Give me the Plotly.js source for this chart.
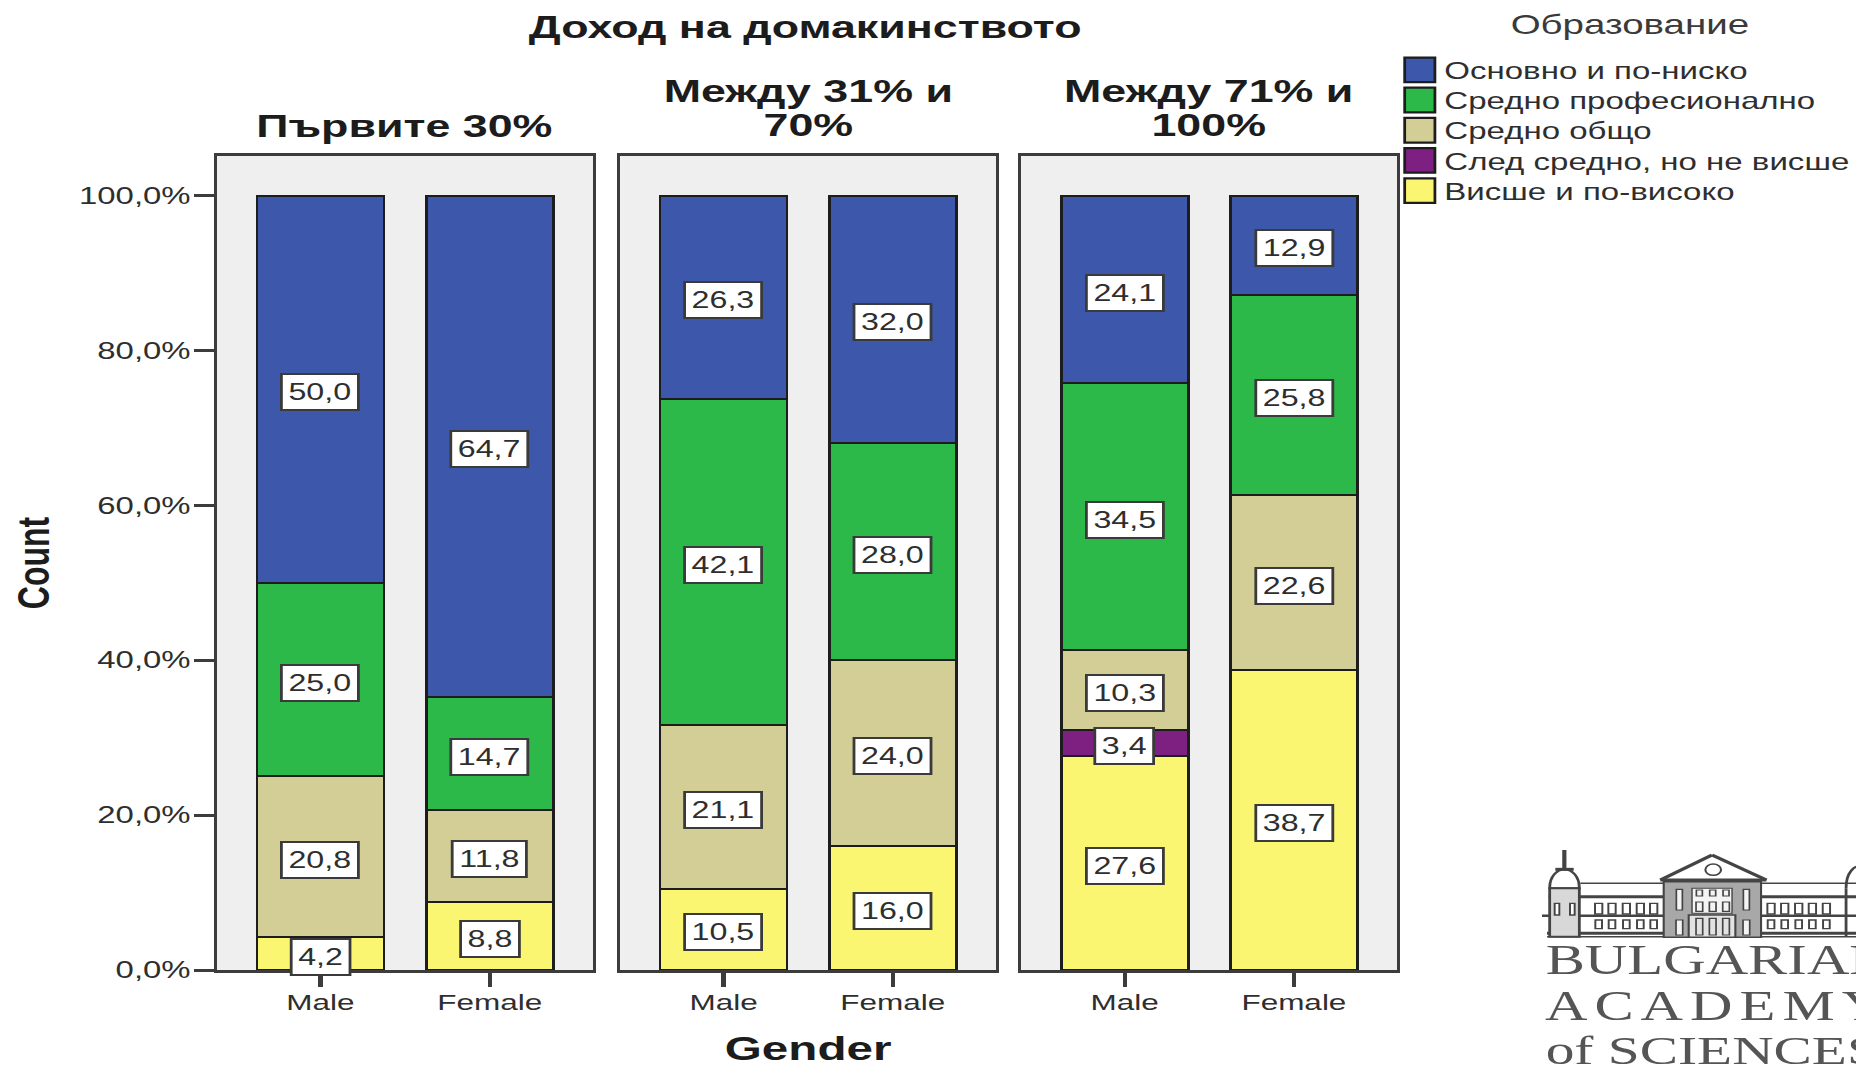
<!DOCTYPE html>
<html><head><meta charset="utf-8">
<script src="https://cdn.plot.ly/plotly-3.0.1.min.js"></script>
<style>
html,body{margin:0;padding:0;background:#fff;overflow:hidden;width:1856px;height:1067px}
#chart{position:absolute;left:0;top:0;height:1067px;transform-origin:0 0}
.legend .legendpoints path{transform:translate(22.5px,0) scale(1.8,2.05) !important;stroke-width:1.1px !important}
</style></head><body><div id="chart"></div>
<script>
// Reference is a horizontally stretched picture: the chart is drawn narrower, then widened.
const STRETCH = 1.4;
const W = 1856, H = 1067;

const genders = ['Male','Female'];
const panelNames = ['Първите 30%','Между 31% и<br>70%','Между 71% и<br>100%'];
const seriesNames = ['Висше и по-високо','След средно, но не висше','Средно общо','Средно професионално','Основно и по-ниско'];
const seriesColors = ['#fbf672','#7d2081','#d3cd96','#2db84a','#3d57aa'];
// per income panel, per series (bottom to top): [Male, Female]
const panel1 = [[4.2,8.8],[0,0],[20.8,11.8],[25.0,14.7],[50.0,64.7]];
const panel2 = [[10.5,16.0],[0,0],[21.1,24.0],[42.1,28.0],[26.3,32.0]];
const panel3 = [[27.6,38.7],[3.4,0],[10.3,22.6],[34.5,25.8],[24.1,12.9]];
const panels = [panel1,panel2,panel3];
const yTicks = [0,20,40,60,80,100];
const yTickLabels = ['0,0%','20,0%','40,0%','60,0%','80,0%','100,0%'];

const panelPx = [[217,593],[620,996],[1021,1397]];
const topPx = 156, botPx = 970;
const px = v => v/W, py = v => 1-v/H;
const ink = '#3c3c3c', txt = '#2e2e2e', sans = 'Liberation Sans, Arial, sans-serif';

const el = document.getElementById('chart');
el.style.width = (W/STRETCH)+'px';
el.style.transform = 'scaleX('+STRETCH+')';

const traces = [], annotations = [], shapes = [];
const layout = {
  width:W/STRETCH, height:H, paper_bgcolor:'#fff', plot_bgcolor:'#efefef',
  margin:{l:0,r:0,t:0,b:0,autoexpand:false}, barmode:'stack', separators:', ',
  bargap:0.25, showlegend:true,
  font:{family:sans,color:txt,size:23},
  title:{text:'Доход на домакинството',x:px(805),y:py(27),xanchor:'center',yanchor:'middle',xref:'paper',yref:'paper',
         font:{family:sans,size:32,weight:700,color:'#1c1c1c'}},
  legend:{x:px(1388),y:py(48),xanchor:'left',yanchor:'top',traceorder:'reversed',
          font:{family:sans,size:23.6,color:txt},bgcolor:'rgba(0,0,0,0)',itemclick:false,itemdoubleclick:false,
          tracegroupgap:0,itemwidth:30}
};

panels.forEach((panel,p)=>{
  const s = p===0?'':String(p+1);
  panel.forEach((vals,k)=>{
    traces.push({type:'bar',x:genders,y:vals,name:seriesNames[k],xaxis:'x'+s,yaxis:'y'+s,
      width:0.75,showlegend:p===0,hoverinfo:'skip',
      marker:{color:seriesColors[k],line:{color:'#1d1d1d',width:2}}});
  });
  layout['xaxis'+(s)] = {domain:[px(panelPx[p][0]),px(panelPx[p][1])],range:[-0.611,1.611],type:'category',
    anchor:'y'+s,showline:true,mirror:true,linecolor:ink,linewidth:3,ticks:'outside',ticklen:14,tickwidth:3,tickcolor:ink,
    showgrid:false,zeroline:false,tickfont:{family:sans,size:22.5,color:txt},ticklabelstandoff:-4,
    title:p===1?{text:'Gender',font:{family:sans,size:34,weight:700,color:'#1c1c1c'},standoff:24}:undefined,
    categoryorder:'array',categoryarray:genders};
  layout['yaxis'+(s)] = {domain:[py(botPx),py(topPx)],range:[0,105.1],anchor:'x'+s,showline:true,mirror:true,
    linecolor:ink,linewidth:2.4,showgrid:false,zeroline:false,tickmode:'array',tickvals:yTicks,ticktext:yTickLabels,
    ticks:p===0?'outside':'',ticklen:14,tickwidth:3,tickcolor:ink,showticklabels:p===0,ticklabelstandoff:-2,
    tickfont:{family:sans,size:23.5,color:txt},
    title:p===0?{text:'Count',font:{family:sans,size:32,weight:700,color:'#1c1c1c'},standoff:11}:undefined};
  // panel heading
  annotations.push({text:panelNames[p],xref:'x'+s+' domain',x:0.5,yref:'paper',y:py(146),yanchor:'bottom',xanchor:'center',
    yshift:p===0?0:-7,showarrow:false,font:{family:sans,size:32,weight:700,color:'#1c1c1c'}});
  // value labels at the middle of each stacked segment
  genders.forEach((g,i)=>{
    let base = 0;
    panel.forEach(vals=>{
      const v = vals[i];
      if(v>0){
        annotations.push({text:v.toFixed(1).replace('.',','),x:g,y:base+v/2,xref:'x'+s,yref:'y'+s,showarrow:false,yshift:-3,
          bgcolor:'#fff',bordercolor:'#3a3a3a',borderwidth:2,borderpad:4,font:{family:sans,size:23,color:txt}});
      }
      base += v;
    });
  });
});

// legend heading
annotations.push({text:'Образование',xref:'paper',yref:'paper',x:px(1629),y:py(24),xanchor:'center',yanchor:'middle',
  showarrow:false,font:{family:sans,size:27.5,color:'#3a3a3a'}});

// institution logo, bottom right
const logoFont = {family:'Liberation Serif, serif',color:'#555'};
const logoIndexStart = annotations.length;
[['BULGARIAN',976,42,0],['ACADEMY',1022,42,17],['of SCIENCES',1066,41,0]].forEach(l=>{
  annotations.push({text:l[0],xref:'paper',yref:'paper',x:px(1544),y:py(l[1]+8),xanchor:'left',yanchor:'bottom',xshift:l[3],
    showarrow:false,font:{family:logoFont.family,size:l[2],color:logoFont.color},borderpad:0});
});
const zx = v=>px(1500+v/3), zy = v=>py(820+v/3);
const logoLine = (a,b,c,d,w)=>shapes.push({type:'line',xref:'paper',yref:'paper',x0:zx(a),y0:zy(b),x1:zx(c),y1:zy(d),line:{color:'#444',width:w}});
const logoRect = (a,b,c,d,w,f)=>shapes.push({type:'rect',xref:'paper',yref:'paper',x0:zx(a),y0:zy(b),x1:zx(c),y1:zy(d),line:{color:'#444',width:w},fillcolor:f||'rgba(0,0,0,0)'});
logoLine(480,180,635,105,3); logoLine(635,105,798,180,3); logoLine(480,180,798,180,3);
shapes.push({type:'circle',xref:'paper',yref:'paper',x0:zx(615),y0:zy(132),x1:zx(662),y1:zy(166),line:{color:'#444',width:1.5}});
logoLine(240,190,490,190,1.5); logoLine(785,190,1068,190,1.5);
logoLine(145,230,1068,230,3); logoLine(125,287,1068,287,2.5); logoLine(140,340,1068,340,3); logoLine(140,350,1068,350,1.5);
logoRect(490,185,782,352,1.5,'#a8a8a8');
logoRect(575,205,695,280,1,'#f4f4f4'); logoRect(565,285,705,352,1.5,'#e2e2e2');
[295,335,378,420,460,812,853,895,936,978].forEach(c=>{
  logoRect(c-11,250,c+11,282,1.4); logoRect(c-10,300,c+10,326,1.4);
});
[597,637,677].forEach(c=>{ logoRect(c-9,210,c+9,228,1.2); logoRect(c-10,246,c+10,274,1.2); logoRect(c-10,295,c+10,345,1.2); });
[537,738].forEach(c=>{ logoRect(c-9,208,c+9,270,1.2,'#f4f4f4'); logoRect(c-10,300,c+10,345,1.2,'#f4f4f4'); });
shapes.push({type:'path',xref:'paper',yref:'paper',line:{color:'#444',width:2},
  path:`M ${zx(148)} ${zy(205)} C ${zx(148)} ${zy(130)}, ${zx(237)} ${zy(130)}, ${zx(237)} ${zy(205)} Z`});
logoLine(192,90,192,150,3); logoLine(165,148,220,148,3);
logoRect(148,205,237,350,2,'#d8d8d8');
[170,216].forEach(c=>logoRect(c-7,250,c+7,285,1.4,'#fff'));
shapes.push({type:'path',xref:'paper',yref:'paper',line:{color:'#444',width:2},
  path:`M ${zx(1037)} ${zy(205)} C ${zx(1037)} ${zy(150)}, ${zx(1068)} ${zy(140)}, ${zx(1068)} ${zy(140)}`});
logoLine(1037,205,1037,350,2);
layout.annotations = annotations; layout.shapes = shapes;

Plotly.newPlot(el,traces,layout,{displayModeBar:false,responsive:false}).then(()=>{
  const st = document.createElement('style');
  st.textContent = `.annotation[data-index="${logoIndexStart+1}"] text{letter-spacing:5px}`;
  document.head.appendChild(st);
  // tighter legend rows and heading line spacing, as in the reference
  const rows = el.querySelectorAll('.legend .traces');
  let y0 = null;
  rows.forEach((r,i)=>{
    const m = /translate\(([-\d.]+),\s*([-\d.]+)\)/.exec(r.getAttribute('transform')||'');
    if(!m) return;
    if(y0===null) y0 = parseFloat(m[2]);
    r.setAttribute('transform',`translate(${m[1]},${y0+i*30.2})`);
  });
  el.querySelectorAll('.annotation-text tspan.line').forEach(t=>{
    if(parseFloat(t.getAttribute('dy'))>0) t.setAttribute('dy','1.05em');
  });
});
</script></body></html>
